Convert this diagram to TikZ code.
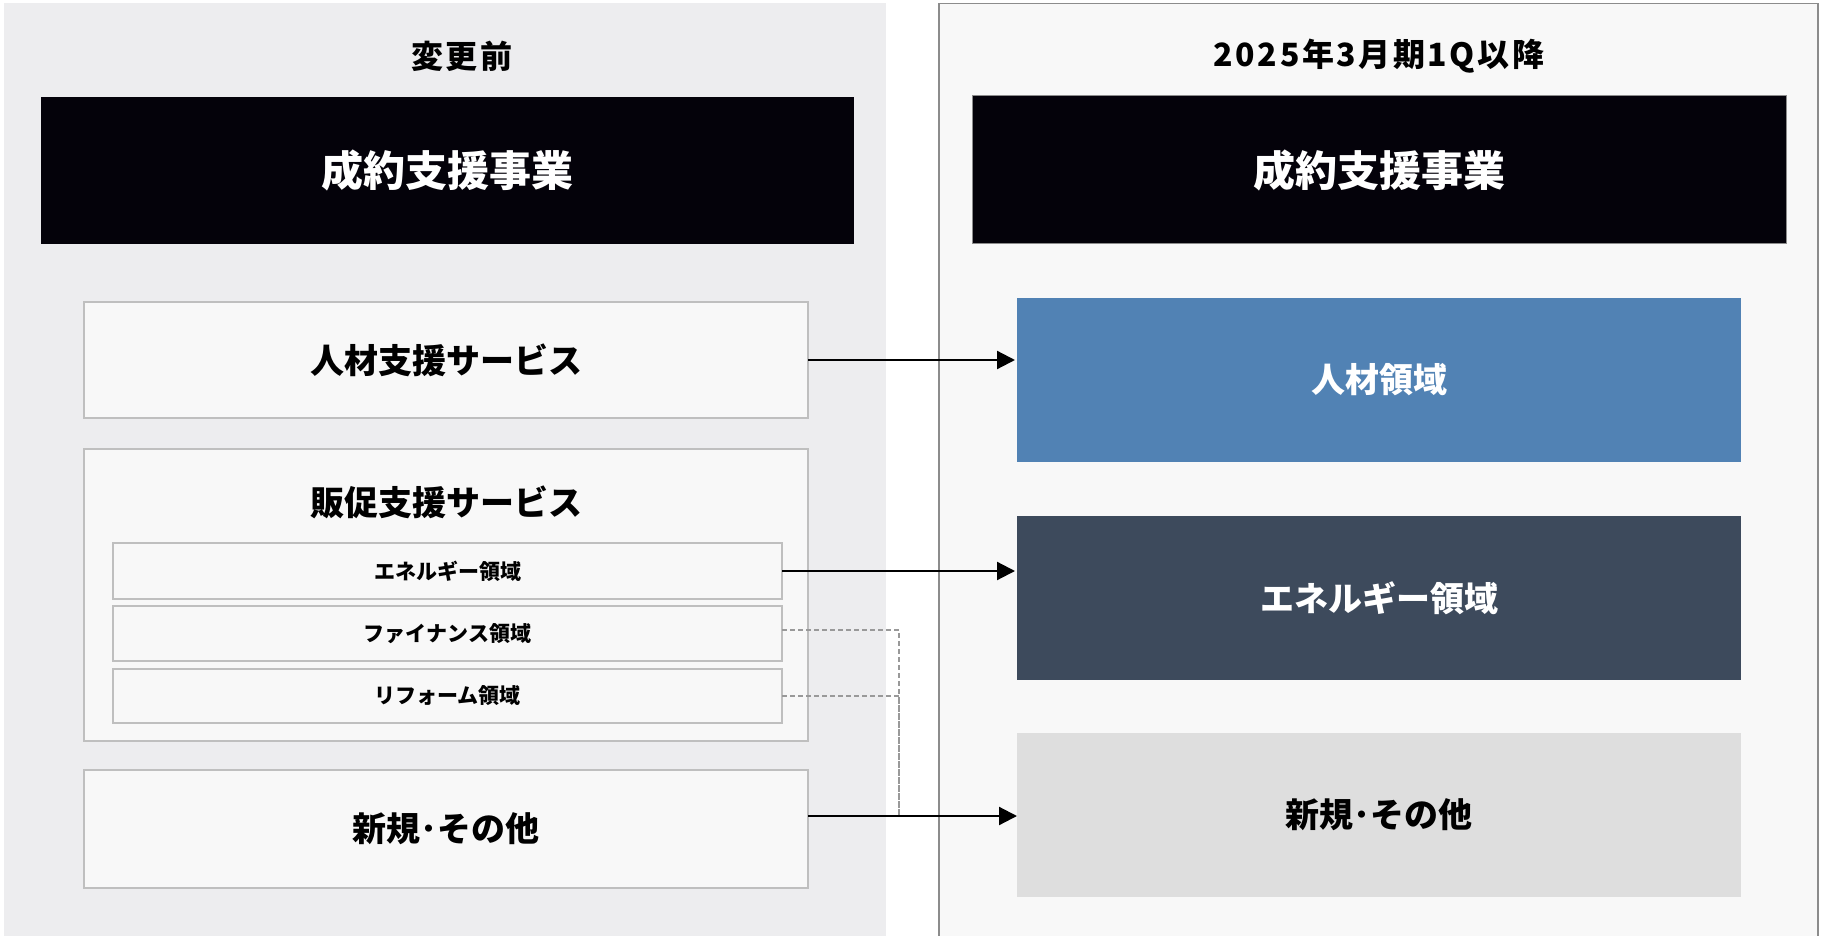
\documentclass[tikz,border=0pt]{standalone}
\usepackage{fontspec}
\setmainfont{Noto Sans CJK JP}
\usetikzlibrary{arrows.meta}
\definecolor{leftbg}{HTML}{EDEDEF}
\definecolor{rightbg}{HTML}{F8F8F8}
\definecolor{boxfill}{HTML}{F8F8F8}
\definecolor{boxline}{HTML}{BFBFBF}
\definecolor{panelline}{HTML}{8C8C8C}
\definecolor{blackbox}{HTML}{04020A}
\definecolor{bluebox}{HTML}{5182B4}
\definecolor{darkbox}{HTML}{3D4A5C}
\definecolor{lightbox}{HTML}{DEDEDE}
\definecolor{dashcol}{HTML}{999999}
\tikzset{
  basebox/.style={anchor=north west, inner sep=0pt, outer sep=0pt, align=center, font=\bfseries},
  headbox/.style={basebox, fill=blackbox, text=white, font=\bfseries\fontsize{42}{48}\selectfont},
  svcbox/.style={basebox, fill=boxfill, draw=boxline, line width=2pt, font=\bfseries\fontsize{34}{40}\selectfont},
  subbox/.style={basebox, fill=boxfill, draw=boxline, line width=2pt, font=\bfseries\fontsize{21}{25}\selectfont},
  newbox/.style={basebox, font=\bfseries\fontsize{34}{40}\selectfont},
  titletext/.style={font=\bfseries\fontsize{32}{36}\selectfont\addfontfeatures{LetterSpace=8}, inner sep=0pt},
  maparrow/.style={line width=2.2pt, -{Triangle[length=18pt,width=18pt]}},
  dashline/.style={draw=dashcol, line width=1.3pt, dash pattern=on 5pt off 3pt}
}
\begin{document}
\begin{tikzpicture}[x=1pt,y=-1pt]
\useasboundingbox (0,0) rectangle (1821,936);
\fill[white] (0,0) rectangle (1821,936);
% panels
\fill[leftbg] (3.5,3.5) rectangle (886,936);
\filldraw[fill=rightbg, draw=panelline, line width=1.5pt] (939,3.5) rectangle (1818,940);
% titles
\node[titletext] (t1) at (462,56) {変更前};
\node[titletext] (t2) at (1379,56) {2025年3月期1Q以降};
% header boxes
\node[headbox, minimum width=813pt, minimum height=147pt] (h1) at (41,97) {成約支援事業};
\node[headbox, draw=panelline, line width=1pt, minimum width=814pt, minimum height=148pt] (h2) at (972,96) {成約支援事業};
% left service boxes
\node[svcbox, minimum width=724pt, minimum height=116pt] (s1) at (84,302) {人材支援サービス};
\node[svcbox, minimum width=724pt, minimum height=292pt] (s2) at (84,449) {};
\node[font=\bfseries\fontsize{34}{40}\selectfont, inner sep=0pt] (s2t) at (446,502) {販促支援サービス};
\node[subbox, minimum width=669pt, minimum height=56pt] (e1) at (113,543) {エネルギー領域};
\node[subbox, minimum width=669pt, minimum height=55pt] (f1) at (113,606) {ファイナンス領域};
\node[subbox, minimum width=669pt, minimum height=54pt] (r1) at (113,669) {リフォーム領域};
\node[svcbox, minimum width=724pt, minimum height=118pt] (n1) at (84,770) {新規･その他};
% right boxes
\node[newbox, fill=bluebox, text=white, minimum width=724pt, minimum height=164pt] (hr) at (1017,298) {人材領域};
\node[newbox, fill=darkbox, text=white, minimum width=724pt, minimum height=164pt] (en) at (1017,516) {エネルギー領域};
\node[newbox, fill=lightbox, text=black, minimum width=724pt, minimum height=164pt] (nw) at (1017,733) {新規･その他};
% arrows
\coordinate (a1) at (1015,360);
\coordinate (a2) at (1015,571);
\coordinate (a3) at (1017,816);
\coordinate (dj) at (899,816);
\draw[dashline] (f1.east |- 0,630) -| (dj);
\draw[dashline] (r1.east |- 0,696) -| (dj);
\draw[maparrow] (s1.east |- a1) -- (a1);
\draw[maparrow] (e1.east |- a2) -- (a2);
\draw[maparrow] (n1.east |- a3) -- (a3);
\end{tikzpicture}
\end{document}
